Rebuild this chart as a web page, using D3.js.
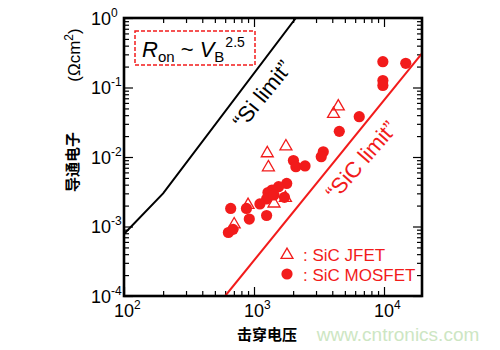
<!DOCTYPE html>
<html><head><meta charset="utf-8">
<script src="https://cdn.jsdelivr.net/npm/d3@7"></script>
<style>
html,body{margin:0;padding:0;background:#fff;}
svg{display:block;font-family:"Liberation Sans",Arial,Helvetica,sans-serif;}
</style></head>
<body>
<svg id="chart" width="500" height="350"></svg>
<script>
// ---- data ----
const mosfetV = [9800, 14700, 9800, 9800, 6450, 4530, 3410, 3290, 2010, 2100, 2470, 1785, 1545, 1375, 1280, 1250, 1110, 1715, 662, 875, 920, 1250, 635, 690, 1425];
const mosfetR = [0.235, 0.223, 0.126, 0.107, 0.038, 0.0234, 0.0119, 0.0101, 0.0089, 0.00725, 0.00743, 0.00416, 0.00374, 0.00335, 0.00308, 0.00249, 0.00211, 0.00263, 0.00182, 0.00182, 0.00128, 0.00144, 0.00082, 0.00091, 0.00284];
const jfetV = [4450, 4090, 1760, 1265, 1290, 1425, 1745, 900, 704];
const jfetR = [0.0533, 0.0416, 0.0142, 0.0113, 0.0071, 0.00214, 0.00257, 0.00204, 0.00107];
const siLimitV = [100, 200, 2100];
const siLimitR = [0.00078, 0.0030, 1.0];
const sicLimitV = [600, 19600];
const sicLimitR = [0.0001, 0.31];
const xMajorTicks = [100, 1000, 10000];
const xTickExp = ["2", "3", "4"];
const yMajorTicks = [1e-4, 1e-3, 1e-2, 1e-1, 1];
const yTickExp = ["-4", "-3", "-2", "-1", "0"];
const xTitle = "击穿电压";
const yTitle = "导通电子";
const yUnit = "(Ωcm";
const legendLabels = [": SiC JFET", ": SiC MOSFET"];

const RED = "#f21b1b";
const svg = d3.select("#chart");
const x = d3.scaleLog().domain([100, 19600]).range([124, 422]);
const y = d3.scaleLog().domain([1e-4, 1]).range([296, 18]);
const X0 = x.range()[0], X1 = x.range()[1], Y0 = y.range()[0], Y1 = y.range()[1];

const minor = (dom) => {
  const out = [];
  for (let e = Math.floor(Math.log10(dom[0])); e <= Math.ceil(Math.log10(dom[1])); e++)
    for (let m = 2; m <= 9; m++) { const v = m * Math.pow(10, e); if (v > dom[0] && v < dom[1]) out.push(v); }
  return out;
};
const xMinor = minor(x.domain()), yMinor = minor(y.domain());

svg.append("defs").append("clipPath").attr("id", "clip")
  .append("rect").attr("x", X0).attr("y", Y1).attr("width", X1 - X0).attr("height", Y0 - Y1);

// axes ticks (inward)
function addAxis(axis, tr) {
  const g = svg.append("g").attr("transform", tr).call(axis);
  g.select(".domain").remove();
  g.selectAll("line").attr("stroke", "#000").attr("stroke-width", 1.2);
  g.selectAll("text").remove();
}
addAxis(d3.axisBottom(x).tickValues(xMinor).tickSize(-5), `translate(0,${Y0})`);
addAxis(d3.axisBottom(x).tickValues(xMajorTicks).tickSize(-9), `translate(0,${Y0})`);
addAxis(d3.axisTop(x).tickValues(xMinor).tickSize(-5), `translate(0,${Y1})`);
addAxis(d3.axisTop(x).tickValues(xMajorTicks).tickSize(-9), `translate(0,${Y1})`);
addAxis(d3.axisLeft(y).tickValues(yMinor).tickSize(-5), `translate(${X0},0)`);
addAxis(d3.axisLeft(y).tickValues(yMajorTicks).tickSize(-9), `translate(${X0},0)`);
addAxis(d3.axisRight(y).tickValues(yMinor).tickSize(-5), `translate(${X1},0)`);
addAxis(d3.axisRight(y).tickValues(yMajorTicks).tickSize(-9), `translate(${X1},0)`);

// tick labels
xMajorTicks.forEach((v, i) => {
  const g = svg.append("g").attr("transform", `translate(${x(v)},317)`);
  g.append("text").attr("text-anchor", "middle").attr("font-size", 18).text("10");
  g.append("text").attr("x", 10).attr("y", -8).attr("font-size", 12).text(xTickExp[i]);
});
yMajorTicks.forEach((v, i) => {
  const g = svg.append("g").attr("transform", `translate(111,${y(v) + 6.5})`);
  g.append("text").attr("text-anchor", "end").attr("font-size", 18).text("10");
  g.append("text").attr("x", 0).attr("y", -8).attr("font-size", 12).text(yTickExp[i]);
});

// limit lines
const line = d3.line().x(d => x(d[0])).y(d => y(d[1]));
const plot = svg.append("g").attr("clip-path", "url(#clip)");
plot.append("path").datum(siLimitV.map((v, i) => [v, siLimitR[i]]))
  .attr("d", line).attr("fill", "none").attr("stroke", "#000").attr("stroke-width", 2);
plot.append("path").datum(sicLimitV.map((v, i) => [v, sicLimitR[i]]))
  .attr("d", line).attr("fill", "none").attr("stroke", RED).attr("stroke-width", 2);

// markers
const tri = d3.symbol().type(d3.symbolTriangle).size(62);
svg.append("g").selectAll("path").data(jfetV.map((v, i) => [v, jfetR[i]])).join("path")
  .attr("d", tri).attr("transform", d => `translate(${x(d[0])},${y(d[1])})`)
  .attr("fill", "none").attr("stroke", RED).attr("stroke-width", 1.3);
svg.append("g").selectAll("circle").data(mosfetV.map((v, i) => [v, mosfetR[i]])).join("circle")
  .attr("cx", d => x(d[0])).attr("cy", d => y(d[1])).attr("r", 5.6).attr("fill", RED);

// frame
svg.append("rect").attr("x", X0).attr("y", Y1).attr("width", X1 - X0).attr("height", Y0 - Y1)
  .attr("fill", "none").attr("stroke", "#000").attr("stroke-width", 2.6);

// Ron box
svg.append("rect").attr("x", 135).attr("y", 31).attr("width", 120).attr("height", 34)
  .attr("fill", "none").attr("stroke", RED).attr("stroke-width", 1.5).attr("stroke-dasharray", "4,2");
const rt = svg.append("text").attr("x", 142).attr("y", 57).attr("font-size", 22).attr("fill", "#000");
rt.append("tspan").attr("font-style", "italic").text("R");
rt.append("tspan").attr("font-size", 15).attr("dy", 5).text("on");
rt.append("tspan").attr("dy", -5).text(" ~ ");
rt.append("tspan").attr("font-style", "italic").text("V");
rt.append("tspan").attr("font-size", 15).attr("dy", 5).text("B");
rt.append("tspan").attr("font-size", 14).attr("dy", -15).attr("dx", 1).text("2.5");

// limit labels
svg.append("text").attr("transform", "translate(262,94) rotate(-51)")
  .attr("text-anchor", "middle").attr("dy", 8).attr("font-size", 22).attr("fill", "#000")
  .text("\u201CSi limit\u201D");
svg.append("text").attr("transform", "translate(361,160) rotate(-49)")
  .attr("text-anchor", "middle").attr("dy", 8).attr("font-size", 22).attr("fill", RED)
  .text("\u201CSiC limit\u201D");

// legend
svg.append("path").attr("d", tri).attr("transform", "translate(287,255)")
  .attr("fill", "none").attr("stroke", RED).attr("stroke-width", 1.3);
svg.append("circle").attr("cx", 287).attr("cy", 274).attr("r", 5.6).attr("fill", RED);
legendLabels.forEach((t, i) => {
  svg.append("text").attr("x", 303).attr("y", 261 + i * 20).attr("font-size", 17).attr("fill", RED).text(t);
});

// axis titles
svg.append("text").attr("x", 267).attr("y", 340).attr("text-anchor", "middle")
  .attr("font-family", "'Noto Sans CJK SC',sans-serif").attr("font-weight", 700).attr("font-size", 15).text(xTitle);
svg.append("text").attr("transform", "translate(78,162) rotate(-90)").attr("text-anchor", "middle")
  .attr("font-family", "'Noto Sans CJK SC',sans-serif").attr("font-weight", 700).attr("font-size", 15).text(yTitle);
const ut = svg.append("text").attr("transform", "translate(80,55) rotate(-90)").attr("text-anchor", "middle")
  .attr("font-size", 17);
ut.append("tspan").text(yUnit);
ut.append("tspan").attr("font-size", 12).attr("dy", -7).text("2");
ut.append("tspan").attr("dy", 7).text(")");

// watermark
svg.append("text").attr("x", 398).attr("y", 341).attr("text-anchor", "middle")
  .attr("font-size", 19).attr("fill", "#cde6c3").text("www.cntronics.com");
</script>
</body></html>
